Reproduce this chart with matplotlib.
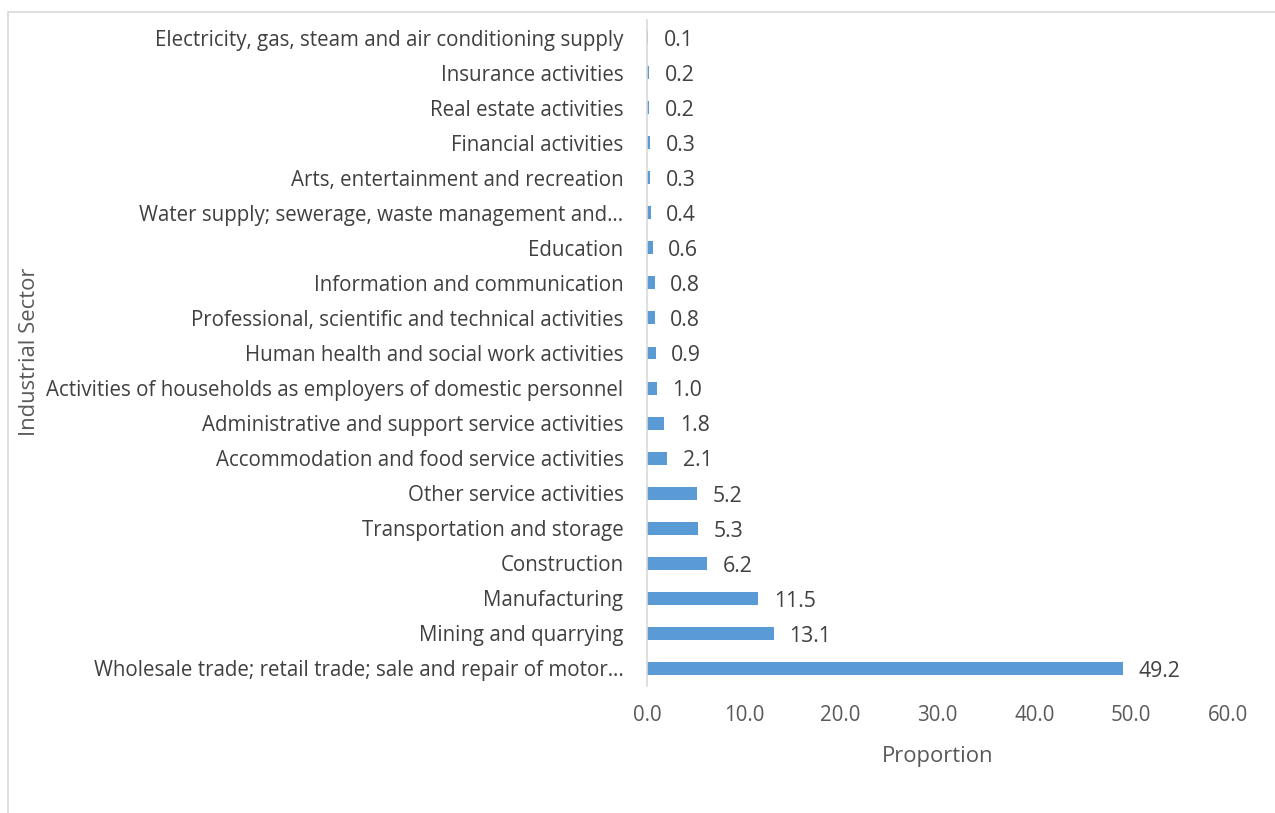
import matplotlib.pyplot as plt
from matplotlib.patches import Rectangle

sectors = [
    "Wholesale trade; retail trade; sale and repair of motor\u2026",
    "Mining and quarrying",
    "Manufacturing",
    "Construction",
    "Transportation and storage",
    "Other service activities",
    "Accommodation and food service activities",
    "Administrative and support service activities",
    "Activities of households as employers of domestic personnel",
    "Human health and social work activities",
    "Professional, scientific and technical activities",
    "Information and communication",
    "Education",
    "Water supply; sewerage, waste management and\u2026",
    "Arts, entertainment and recreation",
    "Financial activities",
    "Real estate activities",
    "Insurance activities",
    "Electricity, gas, steam and air conditioning supply",
]
proportion = [49.2, 13.1, 11.5, 6.2, 5.3, 5.2, 2.1, 1.8, 1.0, 0.9,
              0.8, 0.8, 0.6, 0.4, 0.3, 0.3, 0.2, 0.2, 0.1]
xticks = [0, 10, 20, 30, 40, 50, 60]

plt.rcParams['font.family'] = ['Open Sans', 'DejaVu Sans']
fs = 14.8

fig = plt.figure(figsize=(12.75, 8.13), dpi=100)
ax = fig.add_axes([647 / 1275, 1 - 686 / 813, (1228 - 647) / 1275, (686 - 20) / 813])

y = list(range(len(sectors)))
ax.barh(y, proportion, height=0.37, color="#5B9BD5")
for yi, v in zip(y, proportion):
    ax.text(v + 1.6, yi - 0.08, f"{v:.1f}", va="center", ha="left", fontsize=fs + 0.5, color="#404040")

ax.set_xlim(0, 60)
ax.set_ylim(-0.5, len(sectors) - 0.5)
ax.set_yticks(y)
ax.set_yticklabels(sectors, fontsize=fs, color="#404040")
ax.set_xticks(xticks)
ax.set_xticklabels([f"{t:.1f}" for t in xticks], fontsize=fs, color="#595959")
ax.tick_params(axis="y", length=0, pad=17)
ax.tick_params(axis="x", length=0, pad=14)
for s in ["top", "right", "bottom"]:
    ax.spines[s].set_visible(False)
ax.spines["left"].set_color("#D9D9D9")
ax.spines["left"].set_linewidth(1.2)

ax.set_xlabel("Proportion", fontsize=fs + 1, color="#595959", labelpad=14)
fig.text(30 / 1275, 1 - 352 / 813, "Industrial Sector", rotation=90, va="center", ha="center",
         fontsize=fs + 1, color="#595959")

fig.patches.append(Rectangle((8 / 1275, -0.05), 1.1, 1 - 12 / 813 + 0.05, transform=fig.transFigure,
                             fill=False, edgecolor="#D9D9D9", linewidth=1.2))

fig.savefig("out.png", dpi=100)
